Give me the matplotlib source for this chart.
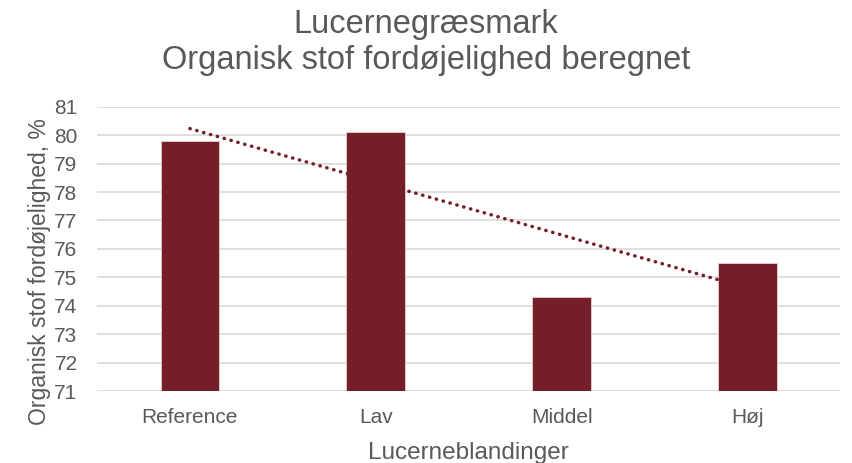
import numpy as np
import matplotlib.pyplot as plt

plt.rcParams['font.family'] = ['Liberation Sans', 'DejaVu Sans']

# data
kategorier = ['Reference', 'Lav', 'Middel', 'Høj']
fordoejelighed = [79.8, 80.1, 74.3, 75.5]

bar_farve = '#741e2a'
tekst_farve = '#595959'

fig = plt.figure(figsize=(8.52, 4.63), dpi=100)
ax = fig.add_axes([0.1138, 0.1555, 0.8725, 0.614])

x = np.arange(len(kategorier))
ax.bar(x, [v - 71 for v in fordoejelighed], bottom=71, width=0.315,
       color=bar_farve, edgecolor='#e6cfd2', linewidth=0.6, zorder=3)

# lineær trendlinje (som i Excel)
a, b = np.polyfit(x, fordoejelighed, 1)
xt = np.array([0, 2.84])
ax.plot(xt, a * xt + b, color=bar_farve, linewidth=2.5,
        linestyle=(0, (0.1, 1.95)), dash_capstyle='round', zorder=4)

ax.set_xlim(-0.5, 3.5)
ax.set_ylim(71, 81)
ax.set_yticks(range(71, 82))
ax.set_xticks(x)
ax.set_xticklabels(kategorier)
ax.grid(axis='y', color='#d9d9d9', linewidth=1.2, zorder=0)
for s in ax.spines.values():
    s.set_visible(False)
ax.tick_params(length=0, labelsize=15, colors=tekst_farve)
ax.tick_params(axis='x', pad=12)
ax.tick_params(axis='y', pad=14)

ax.set_xlabel('Lucerneblandinger', fontsize=17.5, color=tekst_farve, labelpad=11)
ax.set_ylabel('Organisk stof fordøjelighed, %', fontsize=16.5, color=tekst_farve)
ax.yaxis.set_label_coords(-0.062, 0.42)
fig.suptitle('Lucernegræsmark\nOrganisk stof fordøjelighed beregnet',
             fontsize=23.5, color=tekst_farve, y=0.98, linespacing=1.18)

plt.savefig('out.png', dpi=100)
